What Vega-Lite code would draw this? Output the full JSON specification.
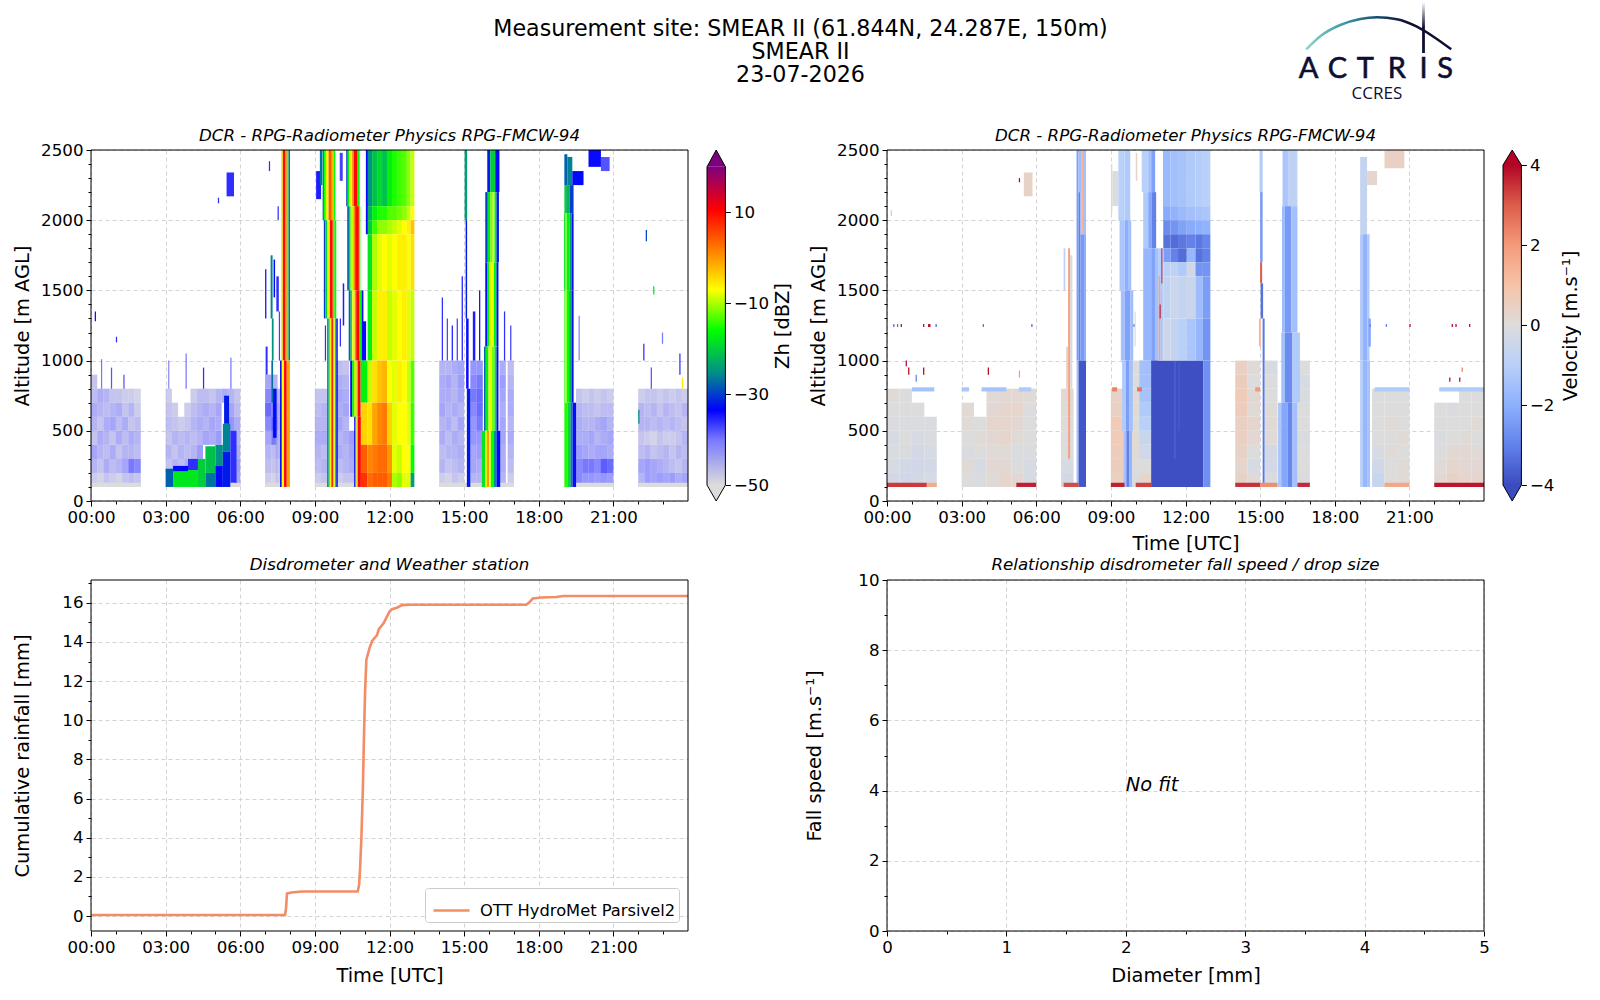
{
"$schema":"https://vega.github.io/schema/vega-lite/v6.json",
"background":"white",
"padding":{"left":12,"top":0,"right":0,"bottom":0},
"bounds":"flush",
"columns":4,
"spacing":{"row":79,"column":19},
"config":{
"view":{"stroke":null},
"axis":{"domain":false,"grid":false,"labelFont":"DejaVu Sans","labelFontSize":16.67,"titleFont":"DejaVu Sans","titleFontSize":19.4,"titleFontWeight":"normal","tickColor":"black","labelColor":"black","titleColor":"black","tickSize":5,"labelPadding":3,"labelOverlap":false,"labelFlush":false,"labelBound":false,"gridColor":"#d3d3d3","gridDash":[4,3],"zindex":1,"titleBaseline":"alphabetic"},
"title":{"font":"DejaVu Sans","fontSize":16.67,"fontStyle":"italic","fontWeight":"normal","color":"black"},
"legend":{"labelFont":"DejaVu Sans"}
},
"datasets":{
"frameT":[{"x0":0,"x1":24,"y0":0,"y1":2500}],
"zn":[
{"t":0.125,"z":150,"v":-47},{"t":0.125,"z":250,"v":-44},{"t":0.125,"z":350,"v":-42},{"t":0.125,"z":450,"v":-46},{"t":0.125,"z":550,"v":-44},{"t":0.125,"z":650,"v":-43},{"t":0.125,"z":750,"v":-45},{"t":0.125,"z":850,"v":-46},
{"t":0.375,"z":150,"v":-48},{"t":0.375,"z":250,"v":-46},{"t":0.375,"z":350,"v":-44},{"t":0.375,"z":450,"v":-43},{"t":0.375,"z":550,"v":-46},{"t":0.375,"z":650,"v":-44},{"t":0.375,"z":750,"v":-43},
{"t":0.625,"z":150,"v":-46},{"t":0.625,"z":250,"v":-43},{"t":0.625,"z":350,"v":-45},{"t":0.625,"z":450,"v":-44},{"t":0.625,"z":550,"v":-43},{"t":0.625,"z":650,"v":-45},{"t":0.625,"z":750,"v":-44},
{"t":0.875,"z":150,"v":-47},{"t":0.875,"z":250,"v":-45},{"t":0.875,"z":350,"v":-43},{"t":0.875,"z":450,"v":-46},{"t":0.875,"z":550,"v":-42},{"t":0.875,"z":650,"v":-44},{"t":0.875,"z":750,"v":-46},
{"t":1.125,"z":150,"v":-48},{"t":1.125,"z":250,"v":-44},{"t":1.125,"z":350,"v":-46},{"t":1.125,"z":450,"v":-43},{"t":1.125,"z":550,"v":-45},{"t":1.125,"z":650,"v":-43},{"t":1.125,"z":750,"v":-46},
{"t":1.375,"z":150,"v":-46},{"t":1.375,"z":250,"v":-42},{"t":1.375,"z":350,"v":-44},{"t":1.375,"z":450,"v":-45},{"t":1.375,"z":550,"v":-43},{"t":1.375,"z":650,"v":-46},{"t":1.375,"z":750,"v":-47},
{"t":1.625,"z":150,"v":-45},{"t":1.625,"z":250,"v":-38},{"t":1.625,"z":350,"v":-44},{"t":1.625,"z":450,"v":-43},{"t":1.625,"z":550,"v":-46},{"t":1.625,"z":650,"v":-44},{"t":1.625,"z":750,"v":-47},
{"t":1.875,"z":150,"v":-46},{"t":1.875,"z":250,"v":-39},{"t":1.875,"z":350,"v":-45},{"t":1.875,"z":450,"v":-44},{"t":1.875,"z":550,"v":-45},{"t":1.875,"z":650,"v":-47},{"t":1.875,"z":750,"v":-48},
{"t":3.125,"z":250,"v":-46},{"t":3.125,"z":350,"v":-44},{"t":3.125,"z":450,"v":-46},{"t":3.125,"z":550,"v":-45},{"t":3.125,"z":650,"v":-46},{"t":3.125,"z":750,"v":-47},
{"t":3.375,"z":250,"v":-44},{"t":3.375,"z":350,"v":-46},{"t":3.375,"z":450,"v":-44},{"t":3.375,"z":550,"v":-46},{"t":3.375,"z":650,"v":-47},
{"t":3.625,"z":250,"v":-45},{"t":3.625,"z":350,"v":-44},{"t":3.625,"z":450,"v":-45},{"t":3.625,"z":550,"v":-47},
{"t":3.875,"z":250,"v":-43},{"t":3.875,"z":350,"v":-45},{"t":3.875,"z":450,"v":-44},{"t":3.875,"z":550,"v":-46},{"t":3.875,"z":650,"v":-47},
{"t":4.125,"z":250,"v":-42},{"t":4.125,"z":350,"v":-44},{"t":4.125,"z":450,"v":-45},{"t":4.125,"z":550,"v":-44},{"t":4.125,"z":650,"v":-45},{"t":4.125,"z":750,"v":-47},
{"t":4.375,"z":350,"v":-41},{"t":4.375,"z":450,"v":-44},{"t":4.375,"z":550,"v":-43},{"t":4.375,"z":650,"v":-44},{"t":4.375,"z":750,"v":-45},
{"t":4.625,"z":450,"v":-42},{"t":4.625,"z":550,"v":-44},{"t":4.625,"z":650,"v":-43},{"t":4.625,"z":750,"v":-45},
{"t":4.875,"z":450,"v":-43},{"t":4.875,"z":550,"v":-42},{"t":4.875,"z":650,"v":-44},{"t":4.875,"z":750,"v":-46},
{"t":5.125,"z":450,"v":-41},{"t":5.125,"z":550,"v":-43},{"t":5.125,"z":650,"v":-42},{"t":5.125,"z":750,"v":-44},
{"t":5.375,"z":750,"v":-43},
{"t":5.625,"z":550,"v":-40},{"t":5.625,"z":650,"v":-42},{"t":5.625,"z":750,"v":-44},
{"t":5.875,"z":150,"v":-42},{"t":5.875,"z":250,"v":-41},{"t":5.875,"z":350,"v":-43},{"t":5.875,"z":450,"v":-44},{"t":5.875,"z":550,"v":-43},{"t":5.875,"z":650,"v":-45},{"t":5.875,"z":750,"v":-46},
{"t":7.125,"z":150,"v":-47},{"t":7.125,"z":250,"v":-45},{"t":7.125,"z":350,"v":-44},{"t":7.125,"z":450,"v":-42},{"t":7.125,"z":550,"v":-39},{"t":7.125,"z":650,"v":-37},{"t":7.125,"z":750,"v":-39},{"t":7.125,"z":850,"v":-42},
{"t":7.375,"z":150,"v":-48},{"t":7.375,"z":250,"v":-46},{"t":7.375,"z":350,"v":-45},{"t":7.375,"z":450,"v":-38},{"t":7.375,"z":550,"v":-36},{"t":7.375,"z":650,"v":-38},{"t":7.375,"z":750,"v":-41},{"t":7.375,"z":850,"v":-44},
{"t":7.55,"z":150,"v":-47},{"t":7.55,"z":250,"v":-46},{"t":7.55,"z":350,"v":-44},{"t":7.55,"z":450,"v":-44},{"t":7.55,"z":550,"v":-43},{"t":7.55,"z":650,"v":-43},{"t":7.55,"z":750,"v":-44},
{"t":9.125,"z":150,"v":-47},{"t":9.125,"z":250,"v":-45},{"t":9.125,"z":350,"v":-44},{"t":9.125,"z":450,"v":-43},{"t":9.125,"z":550,"v":-44},{"t":9.125,"z":650,"v":-45},{"t":9.125,"z":750,"v":-46},
{"t":9.375,"z":150,"v":-46},{"t":9.375,"z":250,"v":-44},{"t":9.375,"z":350,"v":-45},{"t":9.375,"z":450,"v":-43},{"t":9.375,"z":550,"v":-44},{"t":9.375,"z":650,"v":-44},{"t":9.375,"z":750,"v":-46},
{"t":10.0,"z":150,"v":-47},{"t":10.0,"z":250,"v":-45},{"t":10.0,"z":350,"v":-43},{"t":10.0,"z":450,"v":-44},{"t":10.0,"z":550,"v":-42},{"t":10.0,"z":650,"v":-43},{"t":10.0,"z":750,"v":-42},{"t":10.0,"z":850,"v":-43},{"t":10.0,"z":950,"v":-45},
{"t":10.25,"z":150,"v":-46},{"t":10.25,"z":250,"v":-44},{"t":10.25,"z":350,"v":-44},{"t":10.25,"z":450,"v":-43},{"t":10.25,"z":550,"v":-44},{"t":10.25,"z":650,"v":-42},{"t":10.25,"z":750,"v":-43},{"t":10.25,"z":850,"v":-44},{"t":10.25,"z":950,"v":-46},
{"t":10.5,"z":150,"v":-46},{"t":10.5,"z":250,"v":-43},{"t":10.5,"z":350,"v":-42},{"t":10.5,"z":450,"v":-41},
{"t":14.125,"z":150,"v":-47},{"t":14.125,"z":250,"v":-44},{"t":14.125,"z":350,"v":-45},{"t":14.125,"z":450,"v":-43},{"t":14.125,"z":550,"v":-44},{"t":14.125,"z":650,"v":-42},{"t":14.125,"z":750,"v":-43},{"t":14.125,"z":850,"v":-43},{"t":14.125,"z":950,"v":-44},
{"t":14.375,"z":150,"v":-48},{"t":14.375,"z":250,"v":-46},{"t":14.375,"z":350,"v":-44},{"t":14.375,"z":450,"v":-45},{"t":14.375,"z":550,"v":-43},{"t":14.375,"z":650,"v":-44},{"t":14.375,"z":750,"v":-43},{"t":14.375,"z":850,"v":-42},{"t":14.375,"z":950,"v":-44},
{"t":14.625,"z":150,"v":-46},{"t":14.625,"z":250,"v":-45},{"t":14.625,"z":350,"v":-44},{"t":14.625,"z":450,"v":-43},{"t":14.625,"z":550,"v":-45},{"t":14.625,"z":650,"v":-43},{"t":14.625,"z":750,"v":-44},{"t":14.625,"z":850,"v":-44},{"t":14.625,"z":950,"v":-43},
{"t":14.875,"z":150,"v":-47},{"t":14.875,"z":250,"v":-44},{"t":14.875,"z":350,"v":-43},{"t":14.875,"z":450,"v":-44},{"t":14.875,"z":550,"v":-42},{"t":14.875,"z":650,"v":-44},{"t":14.875,"z":750,"v":-42},{"t":14.875,"z":850,"v":-41},{"t":14.875,"z":950,"v":-42},
{"t":15.375,"z":150,"v":-44},{"t":15.375,"z":250,"v":-42},{"t":15.375,"z":350,"v":-42},{"t":15.375,"z":450,"v":-40},{"t":15.375,"z":550,"v":-40},{"t":15.375,"z":650,"v":-39},{"t":15.375,"z":750,"v":-38},{"t":15.375,"z":850,"v":-39},{"t":15.375,"z":950,"v":-40},
{"t":15.625,"z":150,"v":-44},{"t":15.625,"z":250,"v":-43},{"t":15.625,"z":350,"v":-41},{"t":15.625,"z":450,"v":-40},{"t":15.625,"z":550,"v":-38},{"t":15.625,"z":650,"v":-37},{"t":15.625,"z":750,"v":-37},{"t":15.625,"z":850,"v":-38},{"t":15.625,"z":950,"v":-40},
{"t":16.55,"z":150,"v":-44},{"t":16.55,"z":250,"v":-43},{"t":16.55,"z":350,"v":-43},{"t":16.55,"z":450,"v":-42},{"t":16.55,"z":550,"v":-42},{"t":16.55,"z":650,"v":-43},{"t":16.55,"z":750,"v":-42},{"t":16.55,"z":850,"v":-41},{"t":16.55,"z":950,"v":-43},
{"t":16.875,"z":150,"v":-47},{"t":16.875,"z":250,"v":-45},{"t":16.875,"z":350,"v":-44},{"t":16.875,"z":450,"v":-43},{"t":16.875,"z":550,"v":-44},{"t":16.875,"z":650,"v":-43},{"t":16.875,"z":750,"v":-43},{"t":16.875,"z":850,"v":-44},{"t":16.875,"z":950,"v":-45},
{"t":19.625,"z":150,"v":-39},{"t":19.625,"z":250,"v":-39},{"t":19.625,"z":350,"v":-41},{"t":19.625,"z":450,"v":-43},{"t":19.625,"z":550,"v":-43},{"t":19.625,"z":650,"v":-44},{"t":19.625,"z":750,"v":-46},
{"t":19.875,"z":150,"v":-40},{"t":19.875,"z":250,"v":-38},{"t":19.875,"z":350,"v":-42},{"t":19.875,"z":450,"v":-43},{"t":19.875,"z":550,"v":-44},{"t":19.875,"z":650,"v":-45},{"t":19.875,"z":750,"v":-47},
{"t":20.125,"z":150,"v":-40},{"t":20.125,"z":250,"v":-38},{"t":20.125,"z":350,"v":-43},{"t":20.125,"z":450,"v":-42},{"t":20.125,"z":550,"v":-44},{"t":20.125,"z":650,"v":-45},{"t":20.125,"z":750,"v":-46},
{"t":20.375,"z":150,"v":-41},{"t":20.375,"z":250,"v":-39},{"t":20.375,"z":350,"v":-42},{"t":20.375,"z":450,"v":-44},{"t":20.375,"z":550,"v":-43},{"t":20.375,"z":650,"v":-46},{"t":20.375,"z":750,"v":-47},
{"t":20.625,"z":150,"v":-40},{"t":20.625,"z":250,"v":-36},{"t":20.625,"z":350,"v":-42},{"t":20.625,"z":450,"v":-43},{"t":20.625,"z":550,"v":-42},{"t":20.625,"z":650,"v":-45},{"t":20.625,"z":750,"v":-46},
{"t":20.875,"z":150,"v":-41},{"t":20.875,"z":250,"v":-37},{"t":20.875,"z":350,"v":-43},{"t":20.875,"z":450,"v":-42},{"t":20.875,"z":550,"v":-44},{"t":20.875,"z":650,"v":-45},{"t":20.875,"z":750,"v":-47},
{"t":22.125,"z":150,"v":-44},{"t":22.125,"z":250,"v":-42},{"t":22.125,"z":350,"v":-45},{"t":22.125,"z":450,"v":-46},{"t":22.125,"z":550,"v":-44},{"t":22.125,"z":650,"v":-44},{"t":22.125,"z":750,"v":-47},
{"t":22.375,"z":150,"v":-41},{"t":22.375,"z":250,"v":-41},{"t":22.375,"z":350,"v":-44},{"t":22.375,"z":450,"v":-47},{"t":22.375,"z":550,"v":-44},{"t":22.375,"z":650,"v":-45},{"t":22.375,"z":750,"v":-46},
{"t":22.625,"z":150,"v":-42},{"t":22.625,"z":250,"v":-42},{"t":22.625,"z":350,"v":-46},{"t":22.625,"z":450,"v":-48},{"t":22.625,"z":550,"v":-45},{"t":22.625,"z":650,"v":-44},{"t":22.625,"z":750,"v":-46},
{"t":22.875,"z":150,"v":-41},{"t":22.875,"z":250,"v":-43},{"t":22.875,"z":350,"v":-45},{"t":22.875,"z":450,"v":-46},{"t":22.875,"z":550,"v":-44},{"t":22.875,"z":650,"v":-46},{"t":22.875,"z":750,"v":-47},
{"t":23.125,"z":150,"v":-42},{"t":23.125,"z":250,"v":-44},{"t":23.125,"z":350,"v":-44},{"t":23.125,"z":450,"v":-47},{"t":23.125,"z":550,"v":-45},{"t":23.125,"z":650,"v":-44},{"t":23.125,"z":750,"v":-46},
{"t":23.375,"z":150,"v":-41},{"t":23.375,"z":250,"v":-45},{"t":23.375,"z":350,"v":-46},{"t":23.375,"z":450,"v":-47},{"t":23.375,"z":550,"v":-44},{"t":23.375,"z":650,"v":-45},{"t":23.375,"z":750,"v":-47},
{"t":23.625,"z":150,"v":-43},{"t":23.625,"z":250,"v":-46},{"t":23.625,"z":350,"v":-44},{"t":23.625,"z":450,"v":-46},{"t":23.625,"z":550,"v":-45},{"t":23.625,"z":650,"v":-46},{"t":23.625,"z":750,"v":-46},
{"t":23.875,"z":150,"v":-42},{"t":23.875,"z":250,"v":-44},{"t":23.875,"z":350,"v":-45},{"t":23.875,"z":450,"v":-44},{"t":23.875,"z":550,"v":-46},{"t":23.875,"z":650,"v":-44},{"t":23.875,"z":750,"v":-47}
],
"zd":[
{"t0":0,"t1":2,"z0":100,"z1":130,"v":-50},{"t0":3,"t1":6,"z0":100,"z1":130,"v":-50},{"t0":7,"t1":7.65,"z0":100,"z1":130,"v":-50},{"t0":9,"t1":9.55,"z0":100,"z1":130,"v":-50},{"t0":9.9,"t1":10.6,"z0":100,"z1":130,"v":-50},{"t0":14,"t1":15.7,"z0":100,"z1":130,"v":-50},{"t0":16.4,"t1":17,"z0":100,"z1":130,"v":-50},{"t0":19.4,"t1":21,"z0":100,"z1":130,"v":-50},{"t0":22,"t1":24,"z0":100,"z1":130,"v":-50},
{"t0":0.15,"t1":0.2,"z0":1280,"z1":1350,"v":-34},{"t0":0.4,"t1":0.45,"z0":800,"z1":1010,"v":-40},{"t0":0.8,"t1":0.85,"z0":800,"z1":950,"v":-38},{"t0":1.0,"t1":1.05,"z0":1130,"z1":1170,"v":-36},{"t0":1.3,"t1":1.35,"z0":800,"z1":900,"v":-38},
{"t0":3.1,"t1":3.15,"z0":800,"z1":1000,"v":-42},{"t0":3.8,"t1":3.85,"z0":800,"z1":1050,"v":-40},{"t0":4.5,"t1":4.55,"z0":800,"z1":950,"v":-36},{"t0":5.6,"t1":5.65,"z0":800,"z1":1020,"v":-40},{"t0":5.1,"t1":5.15,"z0":2120,"z1":2160,"v":-36},
{"t0":3,"t1":3.3,"z0":100,"z1":230,"v":-28},{"t0":3.3,"t1":3.9,"z0":210,"z1":250,"v":-33},{"t0":3.9,"t1":4.3,"z0":220,"z1":300,"v":-36},{"t0":3.3,"t1":3.9,"z0":100,"z1":210,"v":-18},{"t0":3.9,"t1":4.3,"z0":100,"z1":220,"v":-18},{"t0":4.3,"t1":4.6,"z0":100,"z1":300,"v":-20},{"t0":4.6,"t1":5,"z0":200,"z1":390,"v":-21},{"t0":4.6,"t1":5,"z0":100,"z1":200,"v":-27},{"t0":5,"t1":5.3,"z0":250,"z1":400,"v":-25},{"t0":5,"t1":5.3,"z0":100,"z1":250,"v":-33},{"t0":5.3,"t1":5.6,"z0":350,"z1":550,"v":-26},{"t0":5.3,"t1":5.6,"z0":100,"z1":350,"v":-32},{"t0":5.35,"t1":5.55,"z0":550,"z1":750,"v":-32},{"t0":5.6,"t1":5.85,"z0":130,"z1":500,"v":-36},
{"t0":5.45,"t1":5.75,"z0":2170,"z1":2340,"v":-36},
{"t0":7,"t1":7.05,"z0":1300,"z1":1650,"v":-34},{"t0":7.22,"t1":7.3,"z0":1300,"z1":1750,"v":-26},{"t0":7.27,"t1":7.34,"z0":1000,"z1":1300,"v":-25},{"t0":7.25,"t1":7.32,"z0":700,"z1":1000,"v":-27},{"t0":7.32,"t1":7.46,"z0":450,"z1":800,"v":-33},{"t0":7.45,"t1":7.55,"z0":1350,"z1":1600,"v":-36},{"t0":7.34,"t1":7.4,"z0":1450,"z1":1720,"v":-33},{"t0":7.02,"t1":7.1,"z0":900,"z1":1100,"v":-36},{"t0":7.55,"t1":7.6,"z0":1000,"z1":1350,"v":-37},
{"t0":7.5,"t1":7.55,"z0":2000,"z1":2100,"v":-36},{"t0":7.15,"t1":7.2,"z0":2350,"z1":2420,"v":-36},
{"t0":7.64,"t1":7.71,"z0":1000,"z1":2500,"v":-8},{"t0":7.71,"t1":7.82,"z0":1000,"z1":2500,"v":10},{"t0":7.82,"t1":7.87,"z0":1000,"z1":2500,"v":2},{"t0":7.87,"t1":7.94,"z0":1000,"z1":2500,"v":-13},{"t0":7.94,"t1":8.0,"z0":1000,"z1":2500,"v":-27},
{"t0":7.6,"t1":7.67,"z0":100,"z1":1000,"v":-33},{"t0":7.67,"t1":7.76,"z0":100,"z1":1000,"v":-7},{"t0":7.76,"t1":7.87,"z0":100,"z1":1000,"v":10},{"t0":7.87,"t1":8,"z0":100,"z1":1000,"v":-1},
{"t0":9.05,"t1":9.25,"z0":2150,"z1":2350,"v":-35},{"t0":9.2,"t1":9.3,"z0":2250,"z1":2500,"v":-27},
{"t0":9.31,"t1":9.37,"z0":2000,"z1":2500,"v":-25},{"t0":9.37,"t1":9.44,"z0":2000,"z1":2500,"v":-16},{"t0":9.44,"t1":9.55,"z0":2000,"z1":2500,"v":-8},{"t0":9.55,"t1":9.68,"z0":2000,"z1":2500,"v":4},{"t0":9.68,"t1":9.75,"z0":2000,"z1":2500,"v":-2},{"t0":9.75,"t1":9.82,"z0":2000,"z1":2500,"v":-16},
{"t0":9.36,"t1":9.42,"z0":1300,"z1":2000,"v":-30},{"t0":9.42,"t1":9.5,"z0":1300,"z1":2000,"v":-20},{"t0":9.5,"t1":9.6,"z0":1300,"z1":2000,"v":-8},{"t0":9.6,"t1":9.72,"z0":1300,"z1":2000,"v":10},{"t0":9.72,"t1":9.78,"z0":1300,"z1":2000,"v":0},{"t0":9.78,"t1":9.86,"z0":1300,"z1":2000,"v":-16},
{"t0":9.5,"t1":9.55,"z0":100,"z1":1300,"v":-31},{"t0":9.55,"t1":9.6,"z0":100,"z1":1300,"v":-18},{"t0":9.6,"t1":9.66,"z0":100,"z1":1300,"v":-8},{"t0":9.66,"t1":9.75,"z0":100,"z1":1300,"v":8},{"t0":9.75,"t1":9.8,"z0":100,"z1":1300,"v":-7},{"t0":9.8,"t1":9.86,"z0":100,"z1":1300,"v":-18},{"t0":9.86,"t1":9.92,"z0":100,"z1":1300,"v":-33},
{"t0":10.0,"t1":10.12,"z0":2280,"z1":2480,"v":-37},{"t0":10.12,"t1":10.18,"z0":1250,"z1":1550,"v":-35},{"t0":10.0,"t1":10.05,"z0":1100,"z1":1300,"v":-36},{"t0":9.4,"t1":9.45,"z0":1000,"z1":1250,"v":-36},
{"t0":10.26,"t1":10.32,"z0":2100,"z1":2500,"v":-30},{"t0":10.32,"t1":10.38,"z0":2100,"z1":2500,"v":-17},{"t0":10.38,"t1":10.5,"z0":2100,"z1":2500,"v":-8},{"t0":10.5,"t1":10.56,"z0":2100,"z1":2500,"v":1},{"t0":10.56,"t1":10.72,"z0":2100,"z1":2500,"v":10},{"t0":10.72,"t1":10.8,"z0":2100,"z1":2500,"v":-16},
{"t0":10.3,"t1":10.37,"z0":1500,"z1":2100,"v":-28},{"t0":10.37,"t1":10.44,"z0":1500,"z1":2100,"v":-18},{"t0":10.44,"t1":10.55,"z0":1500,"z1":2100,"v":-9},{"t0":10.55,"t1":10.62,"z0":1500,"z1":2100,"v":1},{"t0":10.62,"t1":10.77,"z0":1500,"z1":2100,"v":10},{"t0":10.77,"t1":10.83,"z0":1500,"z1":2100,"v":-14},
{"t0":10.36,"t1":10.44,"z0":1000,"z1":1500,"v":-28},{"t0":10.44,"t1":10.5,"z0":1000,"z1":1500,"v":-17},{"t0":10.5,"t1":10.6,"z0":1000,"z1":1500,"v":-8},{"t0":10.6,"t1":10.66,"z0":1000,"z1":1500,"v":1},{"t0":10.66,"t1":10.8,"z0":1000,"z1":1500,"v":10},{"t0":10.8,"t1":10.88,"z0":1000,"z1":1500,"v":-16},{"t0":10.88,"t1":10.95,"z0":1000,"z1":1500,"v":-33},
{"t0":10.42,"t1":10.5,"z0":600,"z1":1000,"v":-33},{"t0":10.5,"t1":10.57,"z0":600,"z1":1000,"v":-18},{"t0":10.57,"t1":10.68,"z0":600,"z1":1000,"v":-10},{"t0":10.68,"t1":10.73,"z0":600,"z1":1000,"v":0},{"t0":10.73,"t1":10.84,"z0":600,"z1":1000,"v":10},
{"t0":10.58,"t1":10.63,"z0":100,"z1":600,"v":-34},{"t0":10.63,"t1":10.67,"z0":100,"z1":600,"v":-20},{"t0":10.67,"t1":10.72,"z0":100,"z1":600,"v":-5},{"t0":10.72,"t1":10.85,"z0":100,"z1":600,"v":10},
{"t0":10.93,"t1":11.06,"z0":1000,"z1":1280,"v":-34},{"t0":11.05,"t1":11.15,"z0":1900,"z1":2500,"v":-34},
{"t0":10.84,"t1":11.12,"z0":700,"z1":1000,"v":-17},{"t0":10.85,"t1":11.12,"z0":400,"z1":700,"v":-4},{"t0":10.85,"t1":11.12,"z0":200,"z1":400,"v":4},{"t0":10.85,"t1":11.12,"z0":100,"z1":200,"v":7},
{"t0":11.12,"t1":11.3,"z0":2100,"z1":2500,"v":-25},{"t0":11.3,"t1":11.5,"z0":2100,"z1":2500,"v":-21},{"t0":11.5,"t1":11.7,"z0":2100,"z1":2500,"v":-19},{"t0":11.7,"t1":11.9,"z0":2100,"z1":2500,"v":-21},{"t0":11.9,"t1":12.1,"z0":2100,"z1":2500,"v":-17},{"t0":12.1,"t1":12.3,"z0":2100,"z1":2500,"v":-15},{"t0":12.3,"t1":12.5,"z0":2100,"z1":2500,"v":-14},{"t0":12.5,"t1":12.7,"z0":2100,"z1":2500,"v":-13},{"t0":12.7,"t1":12.85,"z0":2100,"z1":2500,"v":-11},{"t0":12.85,"t1":13,"z0":2100,"z1":2500,"v":-9},
{"t0":11.12,"t1":11.3,"z0":2000,"z1":2100,"v":-22},{"t0":11.3,"t1":11.5,"z0":2000,"z1":2100,"v":-17},{"t0":11.5,"t1":11.7,"z0":2000,"z1":2100,"v":-15},{"t0":11.7,"t1":11.9,"z0":2000,"z1":2100,"v":-15},{"t0":11.9,"t1":12.1,"z0":2000,"z1":2100,"v":-13},{"t0":12.1,"t1":12.3,"z0":2000,"z1":2100,"v":-13},{"t0":12.3,"t1":12.5,"z0":2000,"z1":2100,"v":-12},{"t0":12.5,"t1":12.7,"z0":2000,"z1":2100,"v":-11},{"t0":12.7,"t1":12.85,"z0":2000,"z1":2100,"v":-9},{"t0":12.85,"t1":13,"z0":2000,"z1":2100,"v":-7},
{"t0":11.12,"t1":11.3,"z0":1900,"z1":2000,"v":-20},{"t0":11.3,"t1":11.5,"z0":1900,"z1":2000,"v":-14},{"t0":11.5,"t1":11.7,"z0":1900,"z1":2000,"v":-11},{"t0":11.7,"t1":11.9,"z0":1900,"z1":2000,"v":-11},{"t0":11.9,"t1":12.1,"z0":1900,"z1":2000,"v":-10},{"t0":12.1,"t1":12.3,"z0":1900,"z1":2000,"v":-9},{"t0":12.3,"t1":12.5,"z0":1900,"z1":2000,"v":-8},{"t0":12.5,"t1":12.7,"z0":1900,"z1":2000,"v":-7},{"t0":12.7,"t1":12.85,"z0":1900,"z1":2000,"v":-6},{"t0":12.85,"t1":13,"z0":1900,"z1":2000,"v":-3},
{"t0":11.12,"t1":11.3,"z0":1500,"z1":1900,"v":-18},{"t0":11.3,"t1":11.5,"z0":1500,"z1":1900,"v":-10},{"t0":11.5,"t1":11.7,"z0":1500,"z1":1900,"v":-8},{"t0":11.7,"t1":11.9,"z0":1500,"z1":1900,"v":-7},{"t0":11.9,"t1":12.1,"z0":1500,"z1":1900,"v":-8},{"t0":12.1,"t1":12.3,"z0":1500,"z1":1900,"v":-7},{"t0":12.3,"t1":12.5,"z0":1500,"z1":1900,"v":-6},{"t0":12.5,"t1":12.7,"z0":1500,"z1":1900,"v":-6},{"t0":12.7,"t1":12.85,"z0":1500,"z1":1900,"v":-7},{"t0":12.85,"t1":13,"z0":1500,"z1":1900,"v":-5},
{"t0":11.12,"t1":11.3,"z0":1000,"z1":1500,"v":-17},{"t0":11.3,"t1":11.5,"z0":1000,"z1":1500,"v":-9},{"t0":11.5,"t1":11.7,"z0":1000,"z1":1500,"v":-6},{"t0":11.7,"t1":11.9,"z0":1000,"z1":1500,"v":-6},{"t0":11.9,"t1":12.1,"z0":1000,"z1":1500,"v":-9},{"t0":12.1,"t1":12.3,"z0":1000,"z1":1500,"v":-8},{"t0":12.3,"t1":12.5,"z0":1000,"z1":1500,"v":-7},{"t0":12.5,"t1":12.7,"z0":1000,"z1":1500,"v":-6},{"t0":12.7,"t1":12.85,"z0":1000,"z1":1500,"v":-8},{"t0":12.85,"t1":13,"z0":1000,"z1":1500,"v":-9},
{"t0":11.12,"t1":11.3,"z0":700,"z1":1000,"v":-9},{"t0":11.3,"t1":11.5,"z0":700,"z1":1000,"v":-5},{"t0":11.5,"t1":11.7,"z0":700,"z1":1000,"v":-3},{"t0":11.7,"t1":11.9,"z0":700,"z1":1000,"v":-2},{"t0":11.9,"t1":12.1,"z0":700,"z1":1000,"v":-7},{"t0":12.1,"t1":12.3,"z0":700,"z1":1000,"v":-8},{"t0":12.3,"t1":12.5,"z0":700,"z1":1000,"v":-6},{"t0":12.5,"t1":12.7,"z0":700,"z1":1000,"v":-7},{"t0":12.7,"t1":12.85,"z0":700,"z1":1000,"v":-9},{"t0":12.85,"t1":13,"z0":700,"z1":1000,"v":-13},
{"t0":11.12,"t1":11.3,"z0":400,"z1":700,"v":-5},{"t0":11.3,"t1":11.5,"z0":400,"z1":700,"v":-1},{"t0":11.5,"t1":11.7,"z0":400,"z1":700,"v":1},{"t0":11.7,"t1":11.9,"z0":400,"z1":700,"v":2},{"t0":11.9,"t1":12.1,"z0":400,"z1":700,"v":-4},{"t0":12.1,"t1":12.3,"z0":400,"z1":700,"v":-8},{"t0":12.3,"t1":12.5,"z0":400,"z1":700,"v":-7},{"t0":12.5,"t1":12.7,"z0":400,"z1":700,"v":-7},{"t0":12.7,"t1":12.85,"z0":400,"z1":700,"v":-8},{"t0":12.85,"t1":13,"z0":400,"z1":700,"v":-14},
{"t0":11.12,"t1":11.3,"z0":200,"z1":400,"v":1},{"t0":11.3,"t1":11.5,"z0":200,"z1":400,"v":2},{"t0":11.5,"t1":11.7,"z0":200,"z1":400,"v":3},{"t0":11.7,"t1":11.9,"z0":200,"z1":400,"v":3},{"t0":11.9,"t1":12.1,"z0":200,"z1":400,"v":0},{"t0":12.1,"t1":12.3,"z0":200,"z1":400,"v":-8},{"t0":12.3,"t1":12.5,"z0":200,"z1":400,"v":-9},{"t0":12.5,"t1":12.7,"z0":200,"z1":400,"v":-7},{"t0":12.7,"t1":12.85,"z0":200,"z1":400,"v":-7},{"t0":12.85,"t1":13,"z0":200,"z1":400,"v":-16},
{"t0":11.12,"t1":11.3,"z0":100,"z1":200,"v":3},{"t0":11.3,"t1":11.5,"z0":100,"z1":200,"v":4},{"t0":11.5,"t1":11.7,"z0":100,"z1":200,"v":4},{"t0":11.7,"t1":11.9,"z0":100,"z1":200,"v":4},{"t0":11.9,"t1":12.1,"z0":100,"z1":200,"v":2},{"t0":12.1,"t1":12.3,"z0":100,"z1":200,"v":-10},{"t0":12.3,"t1":12.5,"z0":100,"z1":200,"v":-11},{"t0":12.5,"t1":12.7,"z0":100,"z1":200,"v":-8},{"t0":12.7,"t1":12.85,"z0":100,"z1":200,"v":-8},{"t0":12.85,"t1":13,"z0":100,"z1":200,"v":-24},
{"t0":14.1,"t1":14.15,"z0":1000,"z1":1450,"v":-36},{"t0":14.3,"t1":14.35,"z0":1000,"z1":1300,"v":-37},{"t0":14.5,"t1":14.55,"z0":1000,"z1":1250,"v":-35},{"t0":14.7,"t1":14.75,"z0":1000,"z1":1300,"v":-37},{"t0":14.9,"t1":14.95,"z0":1000,"z1":1600,"v":-35},{"t0":15.35,"t1":15.45,"z0":1000,"z1":1350,"v":-35},{"t0":15.6,"t1":15.65,"z0":1000,"z1":1500,"v":-34},{"t0":16.6,"t1":16.65,"z0":1000,"z1":1350,"v":-36},{"t0":16.85,"t1":16.9,"z0":1000,"z1":1250,"v":-37},
{"t0":15.02,"t1":15.12,"z0":2000,"z1":2500,"v":-24},{"t0":15.06,"t1":15.12,"z0":1300,"z1":2000,"v":-32},{"t0":15.08,"t1":15.18,"z0":800,"z1":1300,"v":-34},{"t0":15.11,"t1":15.25,"z0":100,"z1":800,"v":-32},
{"t0":15.93,"t1":16.05,"z0":2200,"z1":2500,"v":-32},{"t0":16.05,"t1":16.25,"z0":2200,"z1":2500,"v":-20},{"t0":16.25,"t1":16.42,"z0":2200,"z1":2500,"v":-33},
{"t0":15.85,"t1":15.95,"z0":1700,"z1":2200,"v":-30},{"t0":15.95,"t1":16.05,"z0":1700,"z1":2200,"v":-18},{"t0":16.05,"t1":16.15,"z0":1700,"z1":2200,"v":-12},{"t0":16.15,"t1":16.22,"z0":1700,"z1":2200,"v":-8},{"t0":16.22,"t1":16.3,"z0":1700,"z1":2200,"v":-17},{"t0":16.3,"t1":16.4,"z0":1700,"z1":2200,"v":-32},
{"t0":15.85,"t1":15.92,"z0":1100,"z1":1700,"v":-33},{"t0":15.92,"t1":16.02,"z0":1100,"z1":1700,"v":-17},{"t0":16.02,"t1":16.2,"z0":1100,"z1":1700,"v":-8},{"t0":16.2,"t1":16.3,"z0":1100,"z1":1700,"v":-17},{"t0":16.3,"t1":16.38,"z0":1100,"z1":1700,"v":-33},
{"t0":15.8,"t1":15.87,"z0":500,"z1":1100,"v":-28},{"t0":15.87,"t1":15.98,"z0":500,"z1":1100,"v":-17},{"t0":15.98,"t1":16.12,"z0":500,"z1":1100,"v":-8},{"t0":16.12,"t1":16.22,"z0":500,"z1":1100,"v":-12},{"t0":16.22,"t1":16.3,"z0":500,"z1":1100,"v":-18},{"t0":16.3,"t1":16.38,"z0":500,"z1":1100,"v":-33},
{"t0":15.72,"t1":15.85,"z0":100,"z1":500,"v":-18},{"t0":15.85,"t1":15.92,"z0":100,"z1":500,"v":-8},{"t0":15.92,"t1":16,"z0":100,"z1":500,"v":0},{"t0":16,"t1":16.07,"z0":100,"z1":500,"v":-7},{"t0":16.07,"t1":16.18,"z0":100,"z1":500,"v":-16},{"t0":16.18,"t1":16.3,"z0":100,"z1":500,"v":-25},{"t0":16.3,"t1":16.45,"z0":100,"z1":500,"v":-33},
{"t0":19.03,"t1":19.15,"z0":100,"z1":700,"v":-15},{"t0":19.15,"t1":19.27,"z0":100,"z1":700,"v":-19},{"t0":19.27,"t1":19.36,"z0":100,"z1":700,"v":-26},{"t0":19.36,"t1":19.5,"z0":100,"z1":700,"v":-34},
{"t0":19.03,"t1":19.07,"z0":700,"z1":1500,"v":-15},{"t0":19.07,"t1":19.12,"z0":700,"z1":1500,"v":-8},{"t0":19.12,"t1":19.22,"z0":700,"z1":1500,"v":-16},{"t0":19.22,"t1":19.32,"z0":700,"z1":1500,"v":-22},{"t0":19.32,"t1":19.4,"z0":700,"z1":1500,"v":-33},
{"t0":19.02,"t1":19.08,"z0":1500,"z1":2050,"v":-18},{"t0":19.08,"t1":19.12,"z0":1500,"z1":2050,"v":-10},{"t0":19.12,"t1":19.25,"z0":1500,"z1":2050,"v":-17},{"t0":19.25,"t1":19.33,"z0":1500,"z1":2050,"v":-24},{"t0":19.33,"t1":19.4,"z0":1500,"z1":2050,"v":-34},
{"t0":19.03,"t1":19.1,"z0":2050,"z1":2250,"v":-20},{"t0":19.1,"t1":19.25,"z0":2050,"z1":2250,"v":-22},{"t0":19.25,"t1":19.4,"z0":2050,"z1":2250,"v":-30},
{"t0":19.03,"t1":19.15,"z0":2250,"z1":2470,"v":-28},{"t0":19.15,"t1":19.35,"z0":2250,"z1":2450,"v":-26},{"t0":19.35,"t1":19.8,"z0":2250,"z1":2350,"v":-33},
{"t0":20,"t1":20.5,"z0":2380,"z1":2500,"v":-34},{"t0":20.5,"t1":20.85,"z0":2350,"z1":2450,"v":-38},{"t0":19.6,"t1":19.65,"z0":1000,"z1":1320,"v":-41},
{"t0":22.3,"t1":22.35,"z0":1850,"z1":1930,"v":-30},{"t0":22.6,"t1":22.65,"z0":1470,"z1":1530,"v":-18},{"t0":23.75,"t1":23.8,"z0":800,"z1":880,"v":-6},{"t0":22,"t1":22.05,"z0":550,"z1":650,"v":-25},{"t0":22.2,"t1":22.25,"z0":1000,"z1":1120,"v":-36},{"t0":22.95,"t1":23,"z0":1120,"z1":1200,"v":-40},{"t0":23.65,"t1":23.7,"z0":900,"z1":1050,"v":-36},{"t0":22.5,"t1":22.55,"z0":800,"z1":950,"v":-38}
],
"vn":[
{"t":0.25,"z":150,"v":-0.3},{"t":0.25,"z":250,"v":-0.2},{"t":0.25,"z":350,"v":-0.1},{"t":0.25,"z":450,"v":-0.2},{"t":0.25,"z":550,"v":-0.1},{"t":0.25,"z":650,"v":0},{"t":0.25,"z":750,"v":0.1},
{"t":0.75,"z":150,"v":-0.4},{"t":0.75,"z":250,"v":-0.3},{"t":0.75,"z":350,"v":-0.1},{"t":0.75,"z":450,"v":0},{"t":0.75,"z":550,"v":-0.1},{"t":0.75,"z":650,"v":0},{"t":0.75,"z":750,"v":0},
{"t":1.25,"z":150,"v":-0.3},{"t":1.25,"z":250,"v":-0.4},{"t":1.25,"z":350,"v":-0.3},{"t":1.25,"z":450,"v":-0.2},{"t":1.25,"z":550,"v":-0.1},{"t":1.25,"z":650,"v":0},
{"t":1.75,"z":150,"v":-0.2},{"t":1.75,"z":250,"v":-0.3},{"t":1.75,"z":350,"v":-0.2},{"t":1.75,"z":450,"v":-0.1},{"t":1.75,"z":550,"v":-0.1},
{"t":3.25,"z":150,"v":0},{"t":3.25,"z":250,"v":0.1},{"t":3.25,"z":350,"v":-0.1},{"t":3.25,"z":450,"v":0},{"t":3.25,"z":550,"v":0.1},{"t":3.25,"z":650,"v":0.1},
{"t":3.75,"z":150,"v":-0.1},{"t":3.75,"z":250,"v":-0.2},{"t":3.75,"z":350,"v":0},{"t":3.75,"z":450,"v":0.1},{"t":3.75,"z":550,"v":0},
{"t":4.25,"z":150,"v":0.1},{"t":4.25,"z":250,"v":0.2},{"t":4.25,"z":350,"v":0.1},{"t":4.25,"z":450,"v":0.2},{"t":4.25,"z":550,"v":0.3},{"t":4.25,"z":650,"v":0.2},{"t":4.25,"z":750,"v":0.1},
{"t":4.75,"z":150,"v":0.3},{"t":4.75,"z":250,"v":0.2},{"t":4.75,"z":350,"v":0.1},{"t":4.75,"z":450,"v":0.3},{"t":4.75,"z":550,"v":0.3},{"t":4.75,"z":650,"v":0.3},{"t":4.75,"z":750,"v":0.2},
{"t":5.25,"z":150,"v":0.2},{"t":5.25,"z":250,"v":0},{"t":5.25,"z":350,"v":-0.1},{"t":5.25,"z":450,"v":0.1},{"t":5.25,"z":550,"v":0.2},{"t":5.25,"z":650,"v":0.3},{"t":5.25,"z":750,"v":0.2},
{"t":5.75,"z":150,"v":-0.2},{"t":5.75,"z":250,"v":-0.2},{"t":5.75,"z":350,"v":-0.1},{"t":5.75,"z":450,"v":0},{"t":5.75,"z":550,"v":0},{"t":5.75,"z":650,"v":0},{"t":5.75,"z":750,"v":0.1},
{"t":7.25,"z":150,"v":-0.3},{"t":7.25,"z":250,"v":-0.2},{"t":7.25,"z":350,"v":0},{"t":7.25,"z":450,"v":0},{"t":7.25,"z":550,"v":0.1},{"t":7.25,"z":650,"v":0.1},{"t":7.25,"z":750,"v":0.2},
{"t":9.25,"z":150,"v":0.5},{"t":9.25,"z":250,"v":0.6},{"t":9.25,"z":350,"v":0.6},{"t":9.25,"z":450,"v":0.7},{"t":9.25,"z":550,"v":0.7},{"t":9.25,"z":650,"v":0.5},{"t":9.25,"z":750,"v":0.4},
{"t":10,"z":150,"v":-0.1},{"t":10,"z":250,"v":0},{"t":10,"z":350,"v":0.1},{"t":10,"z":450,"v":0.1},{"t":10,"z":550,"v":0},{"t":10,"z":650,"v":0.1},{"t":10,"z":750,"v":0.1},{"t":10,"z":850,"v":0},{"t":10,"z":950,"v":0},
{"t":10.4,"z":150,"v":0.3},{"t":10.4,"z":250,"v":0},{"t":10.4,"z":350,"v":-0.4},{"t":10.4,"z":450,"v":-0.6},{"t":10.4,"z":550,"v":-1},{"t":10.4,"z":650,"v":-1.2},{"t":10.4,"z":750,"v":-1.4},{"t":10.4,"z":850,"v":-1.5},{"t":10.4,"z":950,"v":-1.5},
{"t":14.25,"z":150,"v":0.4},{"t":14.25,"z":250,"v":0.3},{"t":14.25,"z":350,"v":0.4},{"t":14.25,"z":450,"v":0.5},{"t":14.25,"z":550,"v":0.5},{"t":14.25,"z":650,"v":0.6},{"t":14.25,"z":750,"v":0.7},{"t":14.25,"z":850,"v":0.6},{"t":14.25,"z":950,"v":0.5},
{"t":14.75,"z":150,"v":0.1},{"t":14.75,"z":250,"v":-0.2},{"t":14.75,"z":350,"v":0},{"t":14.75,"z":450,"v":0.2},{"t":14.75,"z":550,"v":0.3},{"t":14.75,"z":650,"v":0.1},{"t":14.75,"z":750,"v":0.2},{"t":14.75,"z":850,"v":0},{"t":14.75,"z":950,"v":0.1},
{"t":15.45,"z":150,"v":-0.1},{"t":15.45,"z":250,"v":-0.3},{"t":15.45,"z":350,"v":-0.3},{"t":15.45,"z":450,"v":0.1},{"t":15.45,"z":550,"v":0.1},{"t":15.45,"z":650,"v":0.1},{"t":15.45,"z":750,"v":0},{"t":15.45,"z":850,"v":0},{"t":15.45,"z":950,"v":-0.2},
{"t":16.75,"z":150,"v":-0.1},{"t":16.75,"z":250,"v":0},{"t":16.75,"z":350,"v":0},{"t":16.75,"z":450,"v":-0.1},{"t":16.75,"z":550,"v":0},{"t":16.75,"z":650,"v":0},{"t":16.75,"z":750,"v":-0.1},{"t":16.75,"z":850,"v":-0.2},{"t":16.75,"z":950,"v":0},
{"t":19.75,"z":150,"v":-0.6},{"t":19.75,"z":250,"v":-0.4},{"t":19.75,"z":350,"v":-0.2},{"t":19.75,"z":450,"v":0},{"t":19.75,"z":550,"v":0},{"t":19.75,"z":650,"v":0},{"t":19.75,"z":750,"v":0},
{"t":20.25,"z":150,"v":0},{"t":20.25,"z":250,"v":0},{"t":20.25,"z":350,"v":0.1},{"t":20.25,"z":450,"v":0},{"t":20.25,"z":550,"v":0.1},{"t":20.25,"z":650,"v":0},{"t":20.25,"z":750,"v":0},
{"t":20.75,"z":150,"v":0.1},{"t":20.75,"z":250,"v":0.1},{"t":20.75,"z":350,"v":0},{"t":20.75,"z":450,"v":0.1},{"t":20.75,"z":550,"v":0},{"t":20.75,"z":650,"v":0},{"t":20.75,"z":750,"v":0},
{"t":22.25,"z":150,"v":0.2},{"t":22.25,"z":250,"v":0.1},{"t":22.25,"z":350,"v":0},{"t":22.25,"z":450,"v":-0.1},{"t":22.25,"z":550,"v":0},{"t":22.25,"z":650,"v":0},
{"t":22.75,"z":150,"v":0.4},{"t":22.75,"z":250,"v":0.3},{"t":22.75,"z":350,"v":0.2},{"t":22.75,"z":450,"v":0},{"t":22.75,"z":550,"v":0},{"t":22.75,"z":650,"v":-0.1},
{"t":23.25,"z":150,"v":0.3},{"t":23.25,"z":250,"v":0.2},{"t":23.25,"z":350,"v":0.2},{"t":23.25,"z":450,"v":0.1},{"t":23.25,"z":550,"v":0},{"t":23.25,"z":650,"v":0},{"t":23.25,"z":750,"v":0},
{"t":23.75,"z":150,"v":0.3},{"t":23.75,"z":250,"v":0.2},{"t":23.75,"z":350,"v":0.1},{"t":23.75,"z":450,"v":0},{"t":23.75,"z":550,"v":0.1},{"t":23.75,"z":650,"v":0},{"t":23.75,"z":750,"v":0}
],
"vd":[
{"t0":7.28,"t1":7.36,"z0":300,"z1":1800,"v":1.8},{"t0":7.36,"t1":7.45,"z0":800,"z1":1750,"v":0.1},{"t0":7.1,"t1":7.17,"z0":1500,"z1":1800,"v":-0.8},{"t0":7.2,"t1":7.28,"z0":800,"z1":1100,"v":0.4},
{"t0":7.62,"t1":7.7,"z0":1000,"z1":2500,"v":-2.4},{"t0":7.7,"t1":7.78,"z0":1000,"z1":2200,"v":-3},{"t0":7.78,"t1":7.92,"z0":1000,"z1":1900,"v":-2.5},{"t0":7.92,"t1":8,"z0":1000,"z1":1900,"v":-2},{"t0":7.7,"t1":7.83,"z0":2200,"z1":2500,"v":-1.6},{"t0":7.83,"t1":7.92,"z0":1900,"z1":2500,"v":1.5},{"t0":7.78,"t1":7.83,"z0":1900,"z1":2200,"v":-1.5},{"t0":7.92,"t1":8,"z0":1900,"z1":2500,"v":-1.5},
{"t0":7.62,"t1":7.7,"z0":100,"z1":1000,"v":-1.5},{"t0":7.7,"t1":8,"z0":100,"z1":1000,"v":-3.8},
{"t0":9,"t1":9.06,"z0":2050,"z1":2400,"v":0.1},{"t0":9.06,"t1":9.3,"z0":2100,"z1":2350,"v":0},
{"t0":9.3,"t1":9.55,"z0":2000,"z1":2500,"v":-1},{"t0":9.55,"t1":9.78,"z0":2000,"z1":2500,"v":-1.2},{"t0":9.35,"t1":9.55,"z0":1500,"z1":2000,"v":-1.3},{"t0":9.55,"t1":9.72,"z0":1500,"z1":2000,"v":-2},{"t0":9.72,"t1":9.82,"z0":1500,"z1":2000,"v":-1.5},{"t0":9.4,"t1":9.55,"z0":1000,"z1":1500,"v":-1.5},{"t0":9.55,"t1":9.78,"z0":1000,"z1":1500,"v":-2.3},{"t0":9.78,"t1":9.9,"z0":1000,"z1":1500,"v":-1.6},{"t0":9.45,"t1":9.6,"z0":500,"z1":1000,"v":-1.2},{"t0":9.6,"t1":9.75,"z0":500,"z1":1000,"v":-2.4},{"t0":9.75,"t1":9.88,"z0":500,"z1":1000,"v":-1.5},{"t0":9.5,"t1":9.62,"z0":100,"z1":500,"v":-1.5},{"t0":9.62,"t1":9.75,"z0":100,"z1":500,"v":-3},{"t0":9.75,"t1":9.85,"z0":100,"z1":500,"v":-1.8},
{"t0":10,"t1":10.06,"z0":2280,"z1":2480,"v":0.4},{"t0":9.95,"t1":10,"z0":1100,"z1":1350,"v":0},
{"t0":10.24,"t1":10.5,"z0":2200,"z1":2500,"v":-1},{"t0":10.5,"t1":10.62,"z0":2200,"z1":2500,"v":-1.5},{"t0":10.62,"t1":10.78,"z0":2200,"z1":2500,"v":-2.3},{"t0":10.3,"t1":10.5,"z0":1800,"z1":2200,"v":-1.2},{"t0":10.5,"t1":10.65,"z0":1800,"z1":2200,"v":-2.2},{"t0":10.65,"t1":10.82,"z0":1800,"z1":2200,"v":-3},{"t0":10.3,"t1":10.62,"z0":1000,"z1":1800,"v":-1.8},{"t0":10.62,"t1":10.8,"z0":1000,"z1":1800,"v":-2.3},{"t0":10.8,"t1":10.9,"z0":1000,"z1":1800,"v":-1.5},
{"t0":10.62,"t1":12.72,"z0":100,"z1":1000,"v":-3.95},{"t0":12.72,"t1":13,"z0":100,"z1":1000,"v":-2.7},{"t0":11.55,"t1":11.6,"z0":300,"z1":1000,"v":-3.5},{"t0":11.72,"t1":11.76,"z0":500,"z1":1000,"v":-3.6},
{"t0":10.9,"t1":11.12,"z0":1000,"z1":1800,"v":-1.1},{"t0":10.92,"t1":10.98,"z0":1000,"z1":1600,"v":1.8},{"t0":10.96,"t1":11,"z0":1300,"z1":1400,"v":4},{"t0":11.02,"t1":11.06,"z0":1000,"z1":1500,"v":1.4},{"t0":11.03,"t1":11.07,"z0":1550,"z1":1800,"v":3.6},{"t0":11.1,"t1":11.18,"z0":1800,"z1":2500,"v":-2},
{"t0":11.12,"t1":11.4,"z0":2100,"z1":2500,"v":-1.7},{"t0":11.4,"t1":11.7,"z0":2100,"z1":2500,"v":-1.5},{"t0":11.7,"t1":12.05,"z0":2100,"z1":2500,"v":-1.4},{"t0":12.05,"t1":12.4,"z0":2100,"z1":2500,"v":-1.2},{"t0":12.4,"t1":12.7,"z0":2100,"z1":2500,"v":-1.1},{"t0":12.7,"t1":13,"z0":2100,"z1":2500,"v":-1},
{"t0":11.12,"t1":11.4,"z0":2000,"z1":2100,"v":-2.1},{"t0":11.4,"t1":11.7,"z0":2000,"z1":2100,"v":-1.9},{"t0":11.7,"t1":12.05,"z0":2000,"z1":2100,"v":-1.7},{"t0":12.05,"t1":12.4,"z0":2000,"z1":2100,"v":-1.5},{"t0":12.4,"t1":12.7,"z0":2000,"z1":2100,"v":-1.4},{"t0":12.7,"t1":13,"z0":2000,"z1":2100,"v":-1.3},
{"t0":11.12,"t1":11.4,"z0":1900,"z1":2000,"v":-2.8},{"t0":11.4,"t1":11.7,"z0":1900,"z1":2000,"v":-2.6},{"t0":11.7,"t1":12.05,"z0":1900,"z1":2000,"v":-2.3},{"t0":12.05,"t1":12.4,"z0":1900,"z1":2000,"v":-2.1},{"t0":12.4,"t1":12.7,"z0":1900,"z1":2000,"v":-2},{"t0":12.7,"t1":13,"z0":1900,"z1":2000,"v":-1.9},
{"t0":11.12,"t1":11.4,"z0":1800,"z1":1900,"v":-3.3},{"t0":11.4,"t1":11.7,"z0":1800,"z1":1900,"v":-3.4},{"t0":11.7,"t1":12.05,"z0":1800,"z1":1900,"v":-3.2},{"t0":12.05,"t1":12.4,"z0":1800,"z1":1900,"v":-3},{"t0":12.4,"t1":12.7,"z0":1800,"z1":1900,"v":-3.2},{"t0":12.7,"t1":13,"z0":1800,"z1":1900,"v":-2.9},
{"t0":11.12,"t1":11.4,"z0":1700,"z1":1800,"v":-2.4},{"t0":11.4,"t1":11.7,"z0":1700,"z1":1800,"v":-3},{"t0":11.7,"t1":12.05,"z0":1700,"z1":1800,"v":-3.4},{"t0":12.05,"t1":12.4,"z0":1700,"z1":1800,"v":-1.8},{"t0":12.4,"t1":12.7,"z0":1700,"z1":1800,"v":-3.3},{"t0":12.7,"t1":13,"z0":1700,"z1":1800,"v":-3},
{"t0":11.12,"t1":11.4,"z0":1600,"z1":1700,"v":-1},{"t0":11.4,"t1":11.7,"z0":1600,"z1":1700,"v":-0.8},{"t0":11.7,"t1":12.05,"z0":1600,"z1":1700,"v":-1.2},{"t0":12.05,"t1":12.4,"z0":1600,"z1":1700,"v":-0.4},{"t0":12.4,"t1":12.7,"z0":1600,"z1":1700,"v":-2.6},{"t0":12.7,"t1":13,"z0":1600,"z1":1700,"v":-2.6},
{"t0":11.12,"t1":11.4,"z0":1300,"z1":1600,"v":-0.8},{"t0":11.4,"t1":11.7,"z0":1300,"z1":1600,"v":-0.5},{"t0":11.7,"t1":12.05,"z0":1300,"z1":1600,"v":-0.7},{"t0":12.05,"t1":12.4,"z0":1300,"z1":1600,"v":-0.6},{"t0":12.4,"t1":12.7,"z0":1300,"z1":1600,"v":-1.6},{"t0":12.7,"t1":13,"z0":1300,"z1":1600,"v":-2.4},
{"t0":11.12,"t1":11.4,"z0":1000,"z1":1300,"v":-0.5},{"t0":11.4,"t1":11.7,"z0":1000,"z1":1300,"v":-0.7},{"t0":11.7,"t1":12.05,"z0":1000,"z1":1300,"v":-1},{"t0":12.05,"t1":12.4,"z0":1000,"z1":1300,"v":-1.3},{"t0":12.4,"t1":12.7,"z0":1000,"z1":1300,"v":-1.8},{"t0":12.7,"t1":13,"z0":1000,"z1":1300,"v":-2.6},
{"t0":14.95,"t1":15.03,"z0":1100,"z1":1300,"v":1.3},{"t0":14.98,"t1":15.1,"z0":2200,"z1":2500,"v":-1.2},{"t0":15,"t1":15.1,"z0":1700,"z1":2200,"v":-2.5},{"t0":15,"t1":15.08,"z0":1550,"z1":1700,"v":3},{"t0":15.02,"t1":15.12,"z0":1300,"z1":1550,"v":-3.3},{"t0":15.1,"t1":15.18,"z0":100,"z1":1300,"v":-3.2},
{"t0":15.9,"t1":16.15,"z0":2100,"z1":2500,"v":-1.3},{"t0":16.15,"t1":16.5,"z0":2100,"z1":2500,"v":-0.8},{"t0":15.88,"t1":16,"z0":1200,"z1":2100,"v":-1.6},{"t0":16,"t1":16.25,"z0":1200,"z1":2100,"v":-2.5},{"t0":16.25,"t1":16.5,"z0":1200,"z1":2100,"v":-1.5},{"t0":15.85,"t1":16,"z0":700,"z1":1200,"v":-1.5},{"t0":16,"t1":16.3,"z0":700,"z1":1200,"v":-2.8},{"t0":16.3,"t1":16.6,"z0":700,"z1":1200,"v":-1.2},{"t0":15.72,"t1":15.85,"z0":100,"z1":700,"v":-1.3},{"t0":15.85,"t1":16.1,"z0":100,"z1":700,"v":-2.2},{"t0":16.1,"t1":16.3,"z0":100,"z1":700,"v":-2.9},{"t0":16.3,"t1":16.5,"z0":100,"z1":700,"v":-1.5},
{"t0":19.02,"t1":19.3,"z0":1900,"z1":2450,"v":-0.7},{"t0":19.02,"t1":19.12,"z0":1000,"z1":1900,"v":-1.3},{"t0":19.12,"t1":19.32,"z0":1000,"z1":1900,"v":-1.9},{"t0":19.32,"t1":19.4,"z0":1000,"z1":1900,"v":-1.2},{"t0":19.02,"t1":19.12,"z0":100,"z1":1000,"v":-1.1},{"t0":19.12,"t1":19.3,"z0":100,"z1":1000,"v":-1.8},{"t0":19.3,"t1":19.42,"z0":100,"z1":1000,"v":-1.4},{"t0":19.35,"t1":19.45,"z0":1100,"z1":1300,"v":-2.2},{"t0":19.3,"t1":19.7,"z0":2250,"z1":2350,"v":0.3},{"t0":20,"t1":20.8,"z0":2370,"z1":2500,"v":0.5},
{"t0":5.5,"t1":5.85,"z0":2170,"z1":2340,"v":0.4},{"t0":5.3,"t1":5.35,"z0":2270,"z1":2300,"v":4},{"t0":0.15,"t1":0.2,"z0":2030,"z1":2070,"v":-0.9},
{"t0":0.25,"t1":0.3,"z0":1240,"z1":1260,"v":-3.5},{"t0":0.4,"t1":0.45,"z0":1240,"z1":1260,"v":-3.5},{"t0":0.55,"t1":0.6,"z0":1240,"z1":1260,"v":4},{"t0":1.45,"t1":1.5,"z0":1240,"z1":1260,"v":4},{"t0":1.65,"t1":1.75,"z0":1240,"z1":1260,"v":4},{"t0":1.95,"t1":2,"z0":1240,"z1":1260,"v":-3.5},{"t0":3.85,"t1":3.9,"z0":1240,"z1":1260,"v":-3.5},{"t0":5.8,"t1":5.85,"z0":1240,"z1":1260,"v":-3.5},{"t0":9.9,"t1":9.95,"z0":1240,"z1":1260,"v":-3},{"t0":19.4,"t1":19.45,"z0":1240,"z1":1260,"v":-3},{"t0":20.05,"t1":20.1,"z0":1240,"z1":1260,"v":-3},{"t0":21,"t1":21.05,"z0":1240,"z1":1260,"v":4},{"t0":22.7,"t1":22.75,"z0":1240,"z1":1260,"v":4},{"t0":22.85,"t1":22.9,"z0":1240,"z1":1260,"v":4},{"t0":23.4,"t1":23.45,"z0":1240,"z1":1260,"v":4},
{"t0":1,"t1":1.9,"z0":780,"z1":810,"v":-1.4},{"t0":3,"t1":3.3,"z0":780,"z1":810,"v":-1.3},{"t0":3.8,"t1":4.8,"z0":780,"z1":810,"v":-1.4},{"t0":5.3,"t1":5.8,"z0":780,"z1":810,"v":-1.2},{"t0":9.05,"t1":9.25,"z0":780,"z1":810,"v":2.4},{"t0":10.05,"t1":10.25,"z0":780,"z1":810,"v":2.6},{"t0":14.8,"t1":15,"z0":780,"z1":810,"v":2},{"t0":19.6,"t1":21,"z0":780,"z1":810,"v":-1.2},{"t0":22.2,"t1":24,"z0":780,"z1":810,"v":-1.2},
{"t0":0.85,"t1":0.9,"z0":900,"z1":950,"v":4},{"t0":0.75,"t1":0.8,"z0":960,"z1":1000,"v":4},{"t0":1.15,"t1":1.2,"z0":850,"z1":900,"v":-3},{"t0":1.45,"t1":1.5,"z0":900,"z1":950,"v":4},{"t0":4.05,"t1":4.1,"z0":900,"z1":950,"v":4},{"t0":5.3,"t1":5.35,"z0":880,"z1":930,"v":2},{"t0":22.6,"t1":22.65,"z0":850,"z1":880,"v":4},{"t0":23,"t1":23.05,"z0":850,"z1":880,"v":4},{"t0":23.1,"t1":23.15,"z0":920,"z1":950,"v":2.5},
{"t0":0,"t1":1.6,"z0":100,"z1":130,"v":3.4},{"t0":1.6,"t1":2,"z0":100,"z1":130,"v":1.6},{"t0":5.2,"t1":6,"z0":100,"z1":130,"v":3.7},{"t0":7.1,"t1":7.7,"z0":100,"z1":130,"v":3.2},{"t0":9,"t1":9.55,"z0":100,"z1":130,"v":3.7},{"t0":10,"t1":10.62,"z0":100,"z1":130,"v":3.3},{"t0":14,"t1":15,"z0":100,"z1":130,"v":3.5},{"t0":15,"t1":15.7,"z0":100,"z1":130,"v":2.2},{"t0":16.5,"t1":17,"z0":100,"z1":130,"v":3.6},{"t0":20,"t1":21,"z0":100,"z1":130,"v":1.7},{"t0":22,"t1":24,"z0":100,"z1":130,"v":3.8}
]
},
"concat":[
{"width":597,"height":71,
"layer":[
{"data":{"values":[{"x":800.3,"y":36,"s":"Measurement site: SMEAR II (61.844N, 24.287E, 150m)"},{"x":800.3,"y":59,"s":"SMEAR II"},{"x":800.3,"y":82,"s":"23-07-2026"}]},
"mark":{"type":"text","font":"DejaVu Sans","fontSize":22.2,"align":"center","baseline":"alphabetic","color":"black"},
"encoding":{"x":{"field":"x","type":"quantitative","scale":{"domain":[90.8,687.8],"nice":false,"zero":false},"axis":null},"y":{"field":"y","type":"quantitative","scale":{"domain":[0,71],"reverse":true,"nice":false},"axis":null},"text":{"field":"s"}}},
{"data":{"values":[{"x":1308.3,"y":77.5,"s":"A"},{"x":1337.3,"y":77.5,"s":"C"},{"x":1365,"y":77.5,"s":"T"},{"x":1396.7,"y":77.5,"s":"R"},{"x":1423.3,"y":77.5,"s":"I"},{"x":1445,"y":77.5,"s":"S"}]},
"mark":{"type":"text","font":"Lato","fontSize":29,"align":"center","baseline":"alphabetic","color":"#0e0e32","stroke":"#0e0e32","strokeWidth":0.6},
"encoding":{"x":{"field":"x","type":"quantitative","axis":null},"y":{"field":"y","type":"quantitative","axis":null},"text":{"field":"s"}}},
{"data":{"values":[{"x":1376.7,"y":98.5,"s":"CCRES"}]},
"mark":{"type":"text","font":"Open Sans","fontSize":17,"align":"center","baseline":"alphabetic","color":"#0e0e32"},
"encoding":{"x":{"field":"x","type":"quantitative","axis":null},"y":{"field":"y","type":"quantitative","axis":null},"text":{"field":"s"}}},
{"data":{"values":[{"x":1306,"y":49.3},{"x":1321.7,"y":35},{"x":1340,"y":25},{"x":1360,"y":19},{"x":1376.7,"y":17.3},{"x":1396.7,"y":19.3},{"x":1416.7,"y":26.7},{"x":1433.3,"y":36.7},{"x":1451,"y":49.3}]},
"mark":{"type":"line","interpolate":"monotone","strokeWidth":2.5,"color":{"gradient":"linear","x1":0,"y1":0,"x2":1,"y2":0,"stops":[{"offset":0,"color":"#8fd3cd"},{"offset":0.3,"color":"#2f8f9f"},{"offset":0.5,"color":"#174a6a"},{"offset":0.7,"color":"#0e0e32"},{"offset":1,"color":"#0e0e32"}]}},
"encoding":{"x":{"field":"x","type":"quantitative","axis":null},"y":{"field":"y","type":"quantitative","axis":null}}},
{"data":{"values":[{"x0":1421.9,"x1":1424.7,"y0":2,"y1":53}]},
"mark":{"type":"rect","color":{"gradient":"linear","x1":0,"y1":0,"x2":0,"y2":1,"stops":[{"offset":0,"color":"#ffffff"},{"offset":0.5,"color":"#0e0e32"},{"offset":1,"color":"#0e0e32"}]}},
"encoding":{"x":{"field":"x0","type":"quantitative","axis":null},"x2":{"field":"x1"},"y":{"field":"y0","type":"quantitative","axis":null},"y2":{"field":"y1"}}}
]},
{"width":1,"height":1,"data":{"values":[]},"mark":"point"},
{"width":1,"height":1,"data":{"values":[]},"mark":"point"},
{"width":1,"height":1,"data":{"values":[]},"mark":"point"},
{"width":597,"height":351,
"title":{"text":"DCR - RPG-Radiometer Physics RPG-FMCW-94","offset":-3},
"resolve":{"axis":{"x":"independent","y":"independent"}},
"layer":[
{"data":{"name":"zn"},"mark":{"type":"rect","width":6.3,"height":14.1,"opacity":0.78},
"encoding":{
"x":{"field":"t","type":"quantitative","scale":{"domain":[0,24],"nice":false,"zero":false},"axis":{"values":[0,3,6,9,12,15,18,21],"grid":true,"labelExpr":"(datum.value<10?'0':'')+datum.value+':00'","title":null}},
"y":{"field":"z","type":"quantitative","scale":{"domain":[0,2500],"nice":false},"axis":{"values":[0,500,1000,1500,2000,2500],"grid":true,"title":"Altitude [m AGL]","titleX":-63,"format":"d"}},
"color":{"field":"v","type":"quantitative","legend":null,"scale":{"interpolate":"rgb","domain":[-50,-40,-33.5,-25.5,-16,-7,1.5,10.5,20],"range":["#dcdcdc","#7878ff","#0000ff","#008c8c","#00ff00","#ffff00","#ff8000","#ff0000","#7f007f"]}}}},
{"data":{"name":"zd"},"mark":"rect",
"encoding":{
"x":{"field":"t0","type":"quantitative","axis":null},"x2":{"field":"t1"},
"y":{"field":"z0","type":"quantitative","axis":null},"y2":{"field":"z1"},
"color":{"field":"v","type":"quantitative","legend":null}}},
{"data":{"name":"frameT"},"mark":{"type":"rect","fill":null,"stroke":"black","strokeWidth":1},
"encoding":{
"x":{"field":"x0","type":"quantitative","axis":{"orient":"bottom","values":[1,2,4,5,7,8,10,11,13,14,16,17,19,20,22,23],"labels":false,"tickSize":3,"title":null}},"x2":{"field":"x1"},
"y":{"field":"y0","type":"quantitative","axis":{"orient":"left","values":[100,200,300,400,600,700,800,900,1100,1200,1300,1400,1600,1700,1800,1900,2100,2200,2300,2400],"labels":false,"tickSize":3,"title":null}},"y2":{"field":"y1"}}}
]},
{"width":160.2,"height":351,
"layer":[
{"data":{"values":[{"x0":0,"x1":1,"v0":-50,"v1":20}]},
"mark":{"type":"rect","color":{"gradient":"linear","x1":0,"y1":1,"x2":0,"y2":0,"stops":[{"offset":0,"color":"#dcdcdc"},{"offset":0.143,"color":"#7878ff"},{"offset":0.236,"color":"#0000ff"},{"offset":0.35,"color":"#008c8c"},{"offset":0.486,"color":"#00ff00"},{"offset":0.614,"color":"#ffff00"},{"offset":0.736,"color":"#ff8000"},{"offset":0.864,"color":"#ff0000"},{"offset":1,"color":"#7f007f"}]}},
"encoding":{
"x":{"field":"x0","type":"quantitative","scale":{"domain":[0,8.707],"nice":false},"axis":null},"x2":{"field":"x1"},
"y":{"field":"v0","type":"quantitative","scale":{"domain":[-53.5,23.7],"nice":false,"zero":false},"axis":{"values":[-50,-30,-10,10],"orient":"right","offset":-141.8,"title":"Zh [dBZ]","titleAngle":270,"titlePadding":20}},"y2":{"field":"v1"}}},
{"data":{"values":[{"x0":0.5,"x1":0.5,"y":23.7},{"x0":0,"x1":1,"y":20}]},"mark":{"type":"area","orient":"horizontal","color":"#7f007f"},
"encoding":{"x":{"field":"x0","type":"quantitative"},"x2":{"field":"x1"},"y":{"field":"y","type":"quantitative"}}},
{"data":{"values":[{"x0":0,"x1":1,"y":-50},{"x0":0.5,"x1":0.5,"y":-53.5}]},"mark":{"type":"area","orient":"horizontal","color":"#dcdcdc"},
"encoding":{"x":{"field":"x0","type":"quantitative"},"x2":{"field":"x1"},"y":{"field":"y","type":"quantitative"}}},
{"data":{"values":[{"o":1,"x":0.5,"y":23.7},{"o":2,"x":1,"y":20},{"o":3,"x":1,"y":-50},{"o":4,"x":0.5,"y":-53.5},{"o":5,"x":0,"y":-50},{"o":6,"x":0,"y":20},{"o":7,"x":0.5,"y":23.7}]},
"mark":{"type":"line","color":"black","strokeWidth":1},
"encoding":{"x":{"field":"x","type":"quantitative"},"y":{"field":"y","type":"quantitative"},"order":{"field":"o"}}}
]},
{"width":597,"height":351,
"title":{"text":"DCR - RPG-Radiometer Physics RPG-FMCW-94","offset":-3},
"resolve":{"axis":{"x":"independent","y":"independent"}},
"layer":[
{"data":{"name":"vn"},"mark":{"type":"rect","width":12.5,"height":14.1},
"encoding":{
"x":{"field":"t","type":"quantitative","scale":{"domain":[0,24],"nice":false,"zero":false},"axis":{"values":[0,3,6,9,12,15,18,21],"grid":true,"labelExpr":"(datum.value<10?'0':'')+datum.value+':00'","title":"Time [UTC]","titleY":48}},
"y":{"field":"z","type":"quantitative","scale":{"domain":[0,2500],"nice":false},"axis":{"values":[0,500,1000,1500,2000,2500],"grid":true,"title":"Altitude [m AGL]","titleX":-63,"format":"d"}},
"color":{"field":"v","type":"quantitative","legend":null,"scale":{"interpolate":"rgb","domain":[-4,-3,-2,-1,0,1,2,3,4],"range":["#3b4cc0","#6282ea","#8db0fe","#b9d0f9","#dddcdc","#f6c3a8","#f49a7b","#dc5d4a","#b40426"]}}}},
{"data":{"name":"vd"},"mark":"rect",
"encoding":{
"x":{"field":"t0","type":"quantitative","axis":null},"x2":{"field":"t1"},
"y":{"field":"z0","type":"quantitative","axis":null},"y2":{"field":"z1"},
"color":{"field":"v","type":"quantitative","legend":null}}},
{"data":{"name":"frameT"},"mark":{"type":"rect","fill":null,"stroke":"black","strokeWidth":1},
"encoding":{
"x":{"field":"x0","type":"quantitative","axis":{"orient":"bottom","values":[1,2,4,5,7,8,10,11,13,14,16,17,19,20,22,23],"labels":false,"tickSize":3,"title":null}},"x2":{"field":"x1"},
"y":{"field":"y0","type":"quantitative","axis":{"orient":"left","values":[100,200,300,400,600,700,800,900,1100,1200,1300,1400,1600,1700,1800,1900,2100,2200,2300,2400],"labels":false,"tickSize":3,"title":null}},"y2":{"field":"y1"}}}
]},
{"width":18.4,"height":351,
"layer":[
{"data":{"values":[{"x0":0,"x1":1,"v0":-4,"v1":4}]},
"mark":{"type":"rect","color":{"gradient":"linear","x1":0,"y1":1,"x2":0,"y2":0,"stops":[{"offset":0,"color":"#3b4cc0"},{"offset":0.125,"color":"#6282ea"},{"offset":0.25,"color":"#8db0fe"},{"offset":0.375,"color":"#b9d0f9"},{"offset":0.5,"color":"#dddcdc"},{"offset":0.625,"color":"#f6c3a8"},{"offset":0.75,"color":"#f49a7b"},{"offset":0.875,"color":"#dc5d4a"},{"offset":1,"color":"#b40426"}]}},
"encoding":{
"x":{"field":"x0","type":"quantitative","scale":{"domain":[0,1],"nice":false},"axis":null},"x2":{"field":"x1"},
"y":{"field":"v0","type":"quantitative","scale":{"domain":[-4.4,4.375],"nice":false,"zero":false},"axis":{"values":[-4,-2,0,2,4],"orient":"right","title":"Velocity [m.s⁻¹]","titleAngle":270,"titlePadding":23}},"y2":{"field":"v1"}}},
{"data":{"values":[{"x0":0.5,"x1":0.5,"y":4.375},{"x0":0,"x1":1,"y":4}]},"mark":{"type":"area","orient":"horizontal","color":"#b40426"},
"encoding":{"x":{"field":"x0","type":"quantitative"},"x2":{"field":"x1"},"y":{"field":"y","type":"quantitative"}}},
{"data":{"values":[{"x0":0,"x1":1,"y":-4},{"x0":0.5,"x1":0.5,"y":-4.4}]},"mark":{"type":"area","orient":"horizontal","color":"#3b4cc0"},
"encoding":{"x":{"field":"x0","type":"quantitative"},"x2":{"field":"x1"},"y":{"field":"y","type":"quantitative"}}},
{"data":{"values":[{"o":1,"x":0.5,"y":4.375},{"o":2,"x":1,"y":4},{"o":3,"x":1,"y":-4},{"o":4,"x":0.5,"y":-4.4},{"o":5,"x":0,"y":-4},{"o":6,"x":0,"y":4},{"o":7,"x":0.5,"y":4.375}]},
"mark":{"type":"line","color":"black","strokeWidth":1},
"encoding":{"x":{"field":"x","type":"quantitative"},"y":{"field":"y","type":"quantitative"},"order":{"field":"o"}}}
]},
{"width":597,"height":351,
"title":{"text":"Disdrometer and Weather station","offset":6},
"resolve":{"axis":{"x":"independent","y":"independent"}},
"layer":[
{"data":{"values":[{"s":"OTT HydroMet Parsivel2","t":0,"r":0.05},{"s":"OTT HydroMet Parsivel2","t":7.8,"r":0.05},{"s":"OTT HydroMet Parsivel2","t":7.84,"r":0.4},{"s":"OTT HydroMet Parsivel2","t":7.88,"r":1.15},{"s":"OTT HydroMet Parsivel2","t":8.05,"r":1.2},{"s":"OTT HydroMet Parsivel2","t":8.5,"r":1.25},{"s":"OTT HydroMet Parsivel2","t":10.72,"r":1.25},{"s":"OTT HydroMet Parsivel2","t":10.78,"r":1.6},{"s":"OTT HydroMet Parsivel2","t":10.82,"r":2.5},{"s":"OTT HydroMet Parsivel2","t":10.87,"r":4},{"s":"OTT HydroMet Parsivel2","t":10.93,"r":6.5},{"s":"OTT HydroMet Parsivel2","t":10.98,"r":9.5},{"s":"OTT HydroMet Parsivel2","t":11.02,"r":11.5},{"s":"OTT HydroMet Parsivel2","t":11.07,"r":13.1},{"s":"OTT HydroMet Parsivel2","t":11.2,"r":13.7},{"s":"OTT HydroMet Parsivel2","t":11.3,"r":14.05},{"s":"OTT HydroMet Parsivel2","t":11.5,"r":14.35},{"s":"OTT HydroMet Parsivel2","t":11.57,"r":14.65},{"s":"OTT HydroMet Parsivel2","t":11.76,"r":14.95},{"s":"OTT HydroMet Parsivel2","t":12.0,"r":15.55},{"s":"OTT HydroMet Parsivel2","t":12.1,"r":15.67},{"s":"OTT HydroMet Parsivel2","t":12.3,"r":15.75},{"s":"OTT HydroMet Parsivel2","t":12.5,"r":15.88},{"s":"OTT HydroMet Parsivel2","t":12.8,"r":15.9},{"s":"OTT HydroMet Parsivel2","t":17.5,"r":15.9},{"s":"OTT HydroMet Parsivel2","t":17.6,"r":16.0},{"s":"OTT HydroMet Parsivel2","t":17.76,"r":16.22},{"s":"OTT HydroMet Parsivel2","t":18.1,"r":16.27},{"s":"OTT HydroMet Parsivel2","t":18.7,"r":16.3},{"s":"OTT HydroMet Parsivel2","t":19,"r":16.35},{"s":"OTT HydroMet Parsivel2","t":24,"r":16.35}]},
"mark":{"type":"line","strokeWidth":2.6},
"encoding":{
"x":{"field":"t","type":"quantitative","scale":{"domain":[0,24],"nice":false,"zero":false},"axis":{"values":[0,3,6,9,12,15,18,21],"grid":true,"labelExpr":"(datum.value<10?'0':'')+datum.value+':00'","title":"Time [UTC]","titleY":50}},
"y":{"field":"r","type":"quantitative","scale":{"domain":[-0.765,17.165],"nice":false,"zero":false},"axis":{"values":[0,2,4,6,8,10,12,14,16],"grid":true,"title":"Cumulative rainfall [mm]","titleX":-63}},
"color":{"field":"s","type":"nominal","scale":{"range":["#f48c65"]},"legend":{"title":null,"orient":"bottom-right","offset":9,"symbolType":"stroke","symbolSize":1300,"symbolStrokeWidth":2.6,"symbolOffset":4,"labelFontSize":16.3,"labelLimit":400,"labelColor":"black","labelOffset":9,"fillColor":"white","strokeColor":"#cccccc","cornerRadius":3,"padding":3}}}},
{"data":{"values":[{"x0":0,"x1":24,"y0":-0.765,"y1":17.165}]},"mark":{"type":"rect","fill":null,"stroke":"black","strokeWidth":1},
"encoding":{
"x":{"field":"x0","type":"quantitative","axis":{"orient":"bottom","values":[1,2,4,5,7,8,10,11,13,14,16,17,19,20,22,23],"labels":false,"tickSize":3,"title":null}},"x2":{"field":"x1"},
"y":{"field":"y0","type":"quantitative","axis":{"orient":"left","values":[1,3,5,7,9,11,13,15,17],"labels":false,"tickSize":3,"title":null}},"y2":{"field":"y1"}}}
]},
{"width":1,"height":1,"data":{"values":[]},"mark":"point"},
{"width":597,"height":351,
"title":{"text":"Relationship disdrometer fall speed / drop size","offset":-2},
"resolve":{"axis":{"x":"independent","y":"independent"}},
"layer":[
{"data":{"values":[{"d":2,"f":4,"s":"No fit"}]},
"mark":{"type":"text","font":"DejaVu Sans","fontSize":19.4,"fontStyle":"italic","align":"left","baseline":"alphabetic","color":"black"},
"encoding":{
"x":{"field":"d","type":"quantitative","scale":{"domain":[0,5],"nice":false},"axis":{"values":[0,1,2,3,4,5],"grid":true,"title":"Diameter [mm]","titleY":50}},
"y":{"field":"f","type":"quantitative","scale":{"domain":[0,10],"nice":false},"axis":{"values":[0,2,4,6,8,10],"grid":true,"title":"Fall speed [m.s⁻¹]","titleX":-67}},
"text":{"field":"s"}}},
{"data":{"values":[{"x0":0,"x1":5,"y0":0,"y1":10}]},"mark":{"type":"rect","fill":null,"stroke":"black","strokeWidth":1},
"encoding":{
"x":{"field":"x0","type":"quantitative","axis":{"orient":"bottom","values":[0.5,1.5,2.5,3.5,4.5],"labels":false,"tickSize":3,"title":null}},"x2":{"field":"x1"},
"y":{"field":"y0","type":"quantitative","axis":{"orient":"left","values":[1,3,5,7,9],"labels":false,"tickSize":3,"title":null}},"y2":{"field":"y1"}}}
]},
{"width":1,"height":1,"data":{"values":[]},"mark":"point"}
]
}
